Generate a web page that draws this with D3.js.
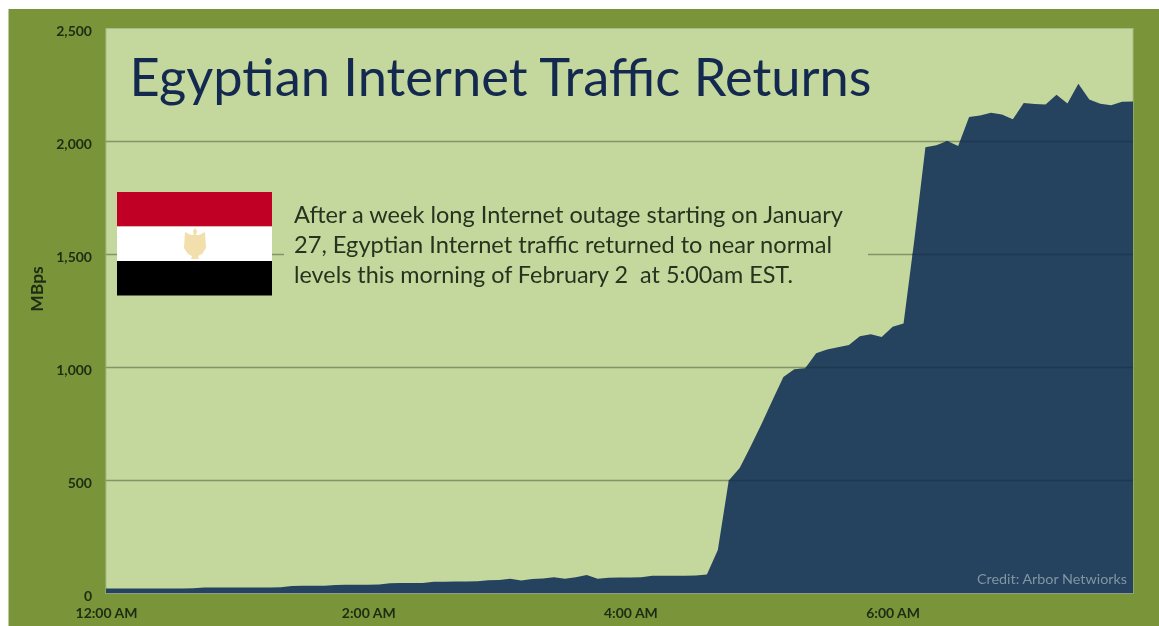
<!DOCTYPE html>
<html>
<head>
<meta charset="utf-8">
<script src="https://cdnjs.cloudflare.com/ajax/libs/d3/7.8.5/d3.min.js"></script>
<style>
html,body{margin:0;padding:0;background:#fff;}
svg{display:block;filter:blur(0.6px);}
text{font-family:Lato,"Open Sans",sans-serif;}
</style>
</head>
<body>
<svg id="chart" width="1159" height="626"></svg>
<script>
// five-minute samples of traffic (MBps), starting at 12:00 AM
const minutesStep = 5;
const traffic = [
  22,22,22,22,22,22,22,22,23,
  27,27,27,27,27,27,27,28,
  33,34,34,34,
  38,39,39,39,40,
  45,46,46,46,
  52,52,53,53,54,
  59,60,65,58,64,66,72,65,72,82,65,70,71,71,72,
  78,79,79,79,80,84,192,500,555,650,
  750,855,958,992,997,1063,1080,1090,1100,1138,
  1147,1135,1180,1195,1570,1975,1983,2002,1980,2108,
  2115,2127,2120,2098,2170,2166,2164,2207,2168,2255,
  2186,2167,2160,2176,2177
];
const yTickValues = [0,500,1000,1500,2000,2500];
const xTickValues = [0,120,240,360];
const xTickLabels = ["12:00 AM","2:00 AM","4:00 AM","6:00 AM"];
const flagStripes = ["#c00025","#ffffff","#000000"];
const noteLines = [
  "After a week long Internet outage starting on January",
  "27, Egyptian Internet traffic returned to near normal",
  "levels this morning of February 2  at 5:00am EST."
];

const svg = d3.select("#chart");
const plotLeft = 106, plotRight = 1133, plotTop = 28.5, plotBottom = 593.5;
const x = d3.scaleLinear().domain([0,470]).range([plotLeft,plotRight]);
const y = d3.scaleLinear().domain([0,2500]).range([plotBottom,plotTop]);

svg.append("rect").attr("x",8.5).attr("y",9).attr("width",1151).attr("height",617).attr("fill","#7a943a");
svg.append("rect").attr("x",plotLeft).attr("y",plotTop).attr("width",plotRight-plotLeft).attr("height",plotBottom-plotTop)
  .attr("fill","#c4d79c").attr("stroke","#a9bb8a").attr("stroke-width",1);

// gridlines beneath the area
svg.append("g").selectAll("line").data(yTickValues.slice(1,-1)).join("line")
  .attr("x1",plotLeft).attr("x2",plotRight).attr("y1",d=>y(d)).attr("y2",d=>y(d))
  .attr("stroke","#84946a").attr("stroke-width",1.3);

// note box hides the 1,500 gridline, flag sits over it
svg.append("rect").attr("x",284).attr("y",192).attr("width",584).attr("height",104).attr("fill","#c4d79c");

const area = d3.area().x((d,i)=>x(i*minutesStep)).y0(plotBottom).y1(d=>y(d));
svg.append("path").datum(traffic).attr("d",area).attr("fill","#25425f");

// gridlines faintly visible through the area
const clip = svg.append("clipPath").attr("id","areaClip");
clip.append("path").datum(traffic).attr("d",area);
svg.append("g").attr("clip-path","url(#areaClip)").selectAll("line").data(yTickValues.slice(1,-1)).join("line")
  .attr("x1",plotLeft).attr("x2",plotRight).attr("y1",d=>y(d)).attr("y2",d=>y(d))
  .attr("stroke","#1f3850").attr("stroke-width",1.3);

svg.append("line").attr("x1",plotLeft).attr("x2",plotRight).attr("y1",plotBottom).attr("y2",plotBottom)
  .attr("stroke","#8b9c8f").attr("stroke-width",1.2);

// axes
const yAxis = d3.axisLeft(y).tickValues(yTickValues).tickFormat(d3.format(",")).tickSize(0).tickPadding(14);
const yG = svg.append("g").attr("transform",`translate(${plotLeft},0)`).call(yAxis);
yG.select(".domain").remove();
yG.selectAll("text").attr("font-size",14).attr("font-weight",700).attr("fill","#1d2c12")
  .style("font-family","Lato,sans-serif").attr("dy","0.5em");

const xAxis = d3.axisBottom(x).tickValues(xTickValues).tickFormat((d,i)=>xTickLabels[i]).tickSize(0).tickPadding(15);
const xG = svg.append("g").attr("transform",`translate(0,${plotBottom})`).call(xAxis);
xG.select(".domain").remove();
xG.selectAll("text").attr("font-size",14).attr("font-weight",700).attr("fill","#1d2c12")
  .style("font-family","Lato,sans-serif");

svg.append("text").attr("transform","translate(43,289) rotate(-90)").attr("text-anchor","middle")
  .attr("font-size",17.5).attr("font-weight",700).attr("fill","#1d2c12").text("MBps");

// title
svg.append("text").attr("x",129.5).attr("y",96).attr("font-size",52).attr("fill","#14294f")
  .attr("textLength",742).attr("lengthAdjust","spacingAndGlyphs").text("Egyptian Internet Traffic Returns");

// flag
const flag = d3.scaleBand().domain(flagStripes).range([192,295.5]);
svg.append("g").selectAll("rect").data(flagStripes).join("rect")
  .attr("x",117).attr("y",d=>flag(d)).attr("width",155).attr("height",flag.bandwidth()).attr("fill",d=>d);
svg.append("path")
  .attr("d","M195 228 l2 3 l-1 4 l3 0 l6 -3 l1 16 l-4 6 l-4 2 l1 3 l-8 0 l1 -3 l-4 -2 l-4 -6 l1 -16 l6 3 l3 0 l-1 -4 z")
  .attr("fill","#f3dfac");

// note text
const noteWidths = [549,538,499];
svg.append("g").selectAll("text").data(noteLines).join("text")
  .attr("x",294).attr("y",(d,i)=>223+i*30).attr("font-size",23.5).attr("fill","#26331f")
  .attr("textLength",(d,i)=>noteWidths[i]).attr("lengthAdjust","spacingAndGlyphs")
  .style("white-space","pre").text(d=>d);

// credit
svg.append("text").attr("x",977).attr("y",584).attr("font-size",14).attr("fill","#7f96a3")
  .attr("textLength",150).attr("lengthAdjust","spacingAndGlyphs").text("Credit: Arbor Netwiorks");
</script>
</body>
</html>
